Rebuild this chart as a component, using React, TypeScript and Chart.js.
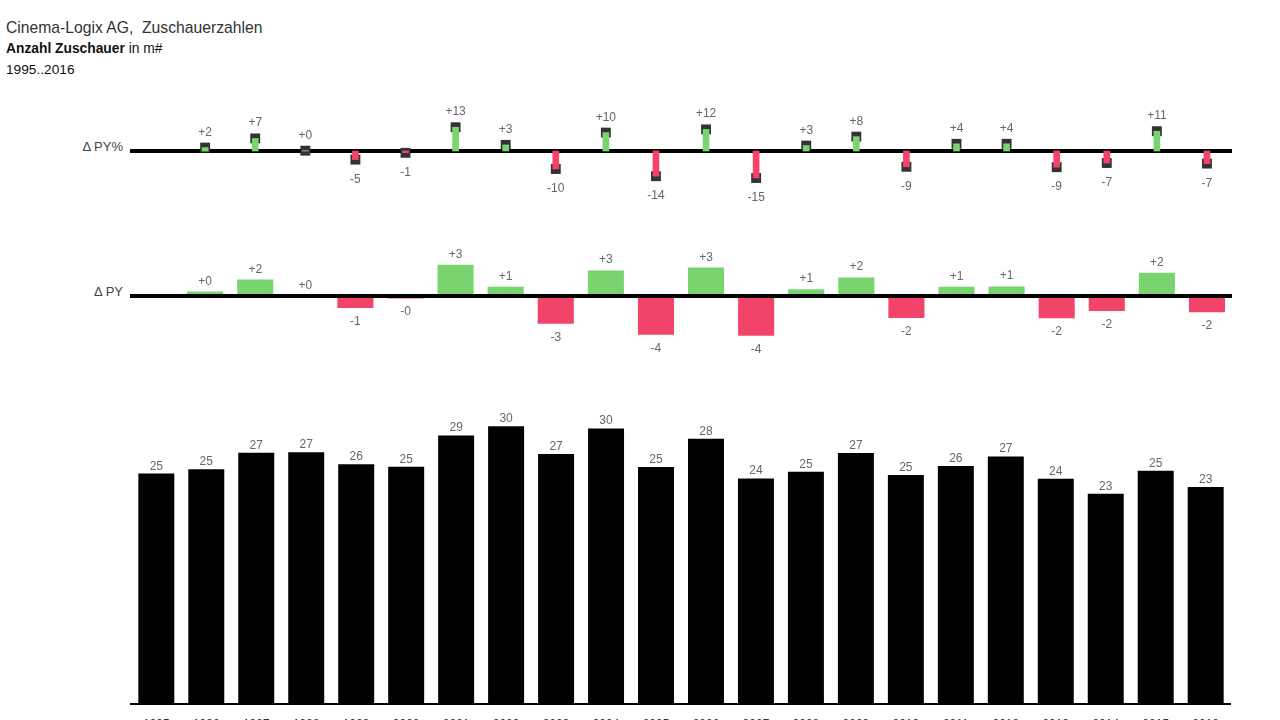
import React, { useEffect, useRef } from 'react';
import { Chart, registerables } from 'chart.js';

Chart.register(...registerables);

const FONT = "'Liberation Sans', Arial, Helvetica, sans-serif";

// ---- data ----
const years = [
  '1995', '1996', '1997', '1998', '1999', '2000', '2001', '2002', '2003', '2004', '2005',
  '2006', '2007', '2008', '2009', '2010', '2011', '2012', '2013', '2014', '2015', '2016',
];
const viewers = [
  24.72, 25.19, 26.95, 27.0, 25.71, 25.45, 28.81, 29.79, 26.81, 29.55, 25.41,
  28.46, 24.19, 24.92, 26.91, 24.55, 25.53, 26.55, 24.16, 22.55, 25.03, 23.28,
];
const deltaPY = [
  null, 0.47, 1.76, 0.05, -1.29, -0.26, 3.36, 0.98, -2.98, 2.74, -4.14,
  3.05, -4.27, 0.73, 1.99, -2.36, 0.98, 1.02, -2.39, -1.61, 2.48, -1.75,
];
const deltaPYPct = [
  null, 1.9, 6.99, 0.19, -4.78, -1.01, 13.2, 3.4, -10.0, 10.22, -14.01,
  12.0, -15.0, 3.02, 7.99, -8.77, 3.99, 4.0, -9.0, -6.66, 11.0, -6.99,
];

const GREEN = '#79d36f';
const RED = '#f2436b';
const HEAD = '#333333';
const LABEL = '#666666';

const LEFT = 130;
const WIDTH = 1102;

const signed = (v: number) => (v < 0 ? '-' : '+') + Math.round(Math.abs(v));
const plain = (v: number) => String(Math.round(v));

function labelPlugin(datasetIndex: number, fmt: (v: number) => string, gapUp: number, gapDown: number, extra: number) {
  return {
    id: 'valueLabels' + datasetIndex,
    afterDatasetsDraw(chart: any) {
      const meta = chart.getDatasetMeta(datasetIndex);
      const data = chart.data.datasets[datasetIndex].data as (number | null)[];
      const ctx = chart.ctx as CanvasRenderingContext2D;
      ctx.save();
      ctx.font = `12px ${FONT}`;
      ctx.fillStyle = LABEL;
      ctx.textAlign = 'center';
      ctx.textBaseline = 'alphabetic';
      meta.data.forEach((el: any, i: number) => {
        const v = data[i];
        if (v == null) return;
        const { x, y } = el.getProps(['x', 'y'], true);
        if (v >= 0) {
          ctx.fillText(fmt(v), x, y - extra - gapUp);
        } else {
          ctx.fillText(fmt(v), x, y + extra + gapDown + 9);
        }
      });
      ctx.restore();
    },
  };
}

function baselinePlugin(width: number, above: boolean) {
  const draw = (chart: any) => {
    const ctx = chart.ctx as CanvasRenderingContext2D;
    const y = chart.scales.y.getPixelForValue(0);
    ctx.save();
    ctx.strokeStyle = '#000';
    ctx.lineWidth = width;
    ctx.beginPath();
    ctx.moveTo(chart.chartArea.left, y);
    ctx.lineTo(chart.chartArea.right, y);
    ctx.stroke();
    ctx.restore();
  };
  return above
    ? { id: 'baselineTop', afterDatasetsDraw: draw }
    : { id: 'baselineBottom', beforeDatasetsDraw: draw };
}

const colorFor = (arr: (number | null)[]) => arr.map((v) => (v != null && v < 0 ? RED : GREEN));

export default function App() {
  const pctRef = useRef<HTMLCanvasElement>(null);
  const pyRef = useRef<HTMLCanvasElement>(null);
  const mainRef = useRef<HTMLCanvasElement>(null);

  useEffect(() => {
    Chart.defaults.font.family = FONT;
    const common: any = {
      responsive: false,
      animation: false,
      events: [],
      plugins: { legend: { display: false }, tooltip: { enabled: false }, title: { display: false } },
    };

    const pct = new Chart(pctRef.current!, {
      type: 'bar',
      data: {
        labels: years,
        datasets: [
          {
            type: 'bar',
            data: deltaPYPct,
            backgroundColor: colorFor(deltaPYPct),
            barThickness: 6,
            order: 0,
          } as any,
          {
            type: 'line',
            data: deltaPYPct,
            showLine: false,
            pointStyle: 'rect',
            pointRadius: 7,
            pointBackgroundColor: HEAD,
            pointBorderColor: HEAD,
            pointBorderWidth: 0,
            order: 1,
          } as any,
        ],
      },
      options: {
        ...common,
        layout: { autoPadding: false, padding: { top: 15, bottom: 15, left: 0, right: 0 } },
        scales: {
          x: { display: false, offset: true },
          y: { display: false, min: -25, max: 25 },
        },
      },
      plugins: [baselinePlugin(4, false), labelPlugin(1, signed, 7, 9, 5)],
    });

    const py = new Chart(pyRef.current!, {
      type: 'bar',
      data: {
        labels: years,
        datasets: [
          {
            data: deltaPY,
            backgroundColor: colorFor(deltaPY),
            categoryPercentage: 1,
            barPercentage: 0.72,
          } as any,
        ],
      },
      options: {
        ...common,
        layout: { padding: { top: 15, bottom: 15, left: 0, right: 0 } },
        scales: {
          x: { display: false },
          y: { display: false, min: -6, max: 6 },
        },
      },
      plugins: [baselinePlugin(4, true), labelPlugin(0, signed, 7, 8, 0)],
    });

    const main = new Chart(mainRef.current!, {
      type: 'bar',
      data: {
        labels: years,
        datasets: [
          {
            data: viewers,
            backgroundColor: '#000000',
            categoryPercentage: 1,
            barPercentage: 0.72,
          } as any,
        ],
      },
      options: {
        ...common,
        layout: { padding: { top: 17, bottom: 0, left: 0, right: 0 } },
        scales: {
          x: {
            grid: { display: false, drawTicks: false },
            border: { display: true, color: '#000', width: 2 },
            ticks: { color: '#333', font: { size: 12 }, padding: 13, maxRotation: 0, autoSkip: false },
            afterFit: (s: any) => {
              s.height = 30;
            },
          },
          y: { display: false, min: 0, max: 34 },
        },
      },
      plugins: [labelPlugin(0, plain, 4, 4, 0)],
    });

    return () => {
      pct.destroy();
      py.destroy();
      main.destroy();
    };
  }, []);

  const axisLabel: React.CSSProperties = {
    position: 'absolute',
    right: 1280 - 123,
    fontFamily: FONT,
    fontSize: 13,
    lineHeight: '16px',
    color: '#444',
    whiteSpace: 'nowrap',
  };

  return (
    <div
      style={{
        position: 'fixed',
        left: 0,
        top: 0,
        width: 1280,
        height: 720,
        overflow: 'hidden',
        background: '#fff',
        fontFamily: FONT,
      }}
    >
      <div style={{ position: 'absolute', left: 6, top: 18, fontSize: 15.7, lineHeight: '20px', color: '#333', whiteSpace: 'pre' }}>
        {'Cinema-Logix AG,  Zuschauerzahlen'}
      </div>
      <div style={{ position: 'absolute', left: 6, top: 41, fontSize: 13.8, lineHeight: '16px', color: '#111', whiteSpace: 'pre' }}>
        <b>Anzahl Zuschauer</b> in m#
      </div>
      <div style={{ position: 'absolute', left: 6, top: 62, fontSize: 13.7, lineHeight: '16px', color: '#111' }}>
        1995..2016
      </div>

      <div style={{ ...axisLabel, top: 139 }}>Δ PY%</div>
      <div style={{ ...axisLabel, top: 284 }}>Δ PY</div>

      <canvas ref={pctRef} width={WIDTH} height={120} style={{ position: 'absolute', left: LEFT, top: 91 }} />
      <canvas ref={pyRef} width={WIDTH} height={142} style={{ position: 'absolute', left: LEFT, top: 225 }} />
      <canvas ref={mainRef} width={WIDTH} height={364} style={{ position: 'absolute', left: LEFT, top: 370 }} />
    </div>
  );
}
